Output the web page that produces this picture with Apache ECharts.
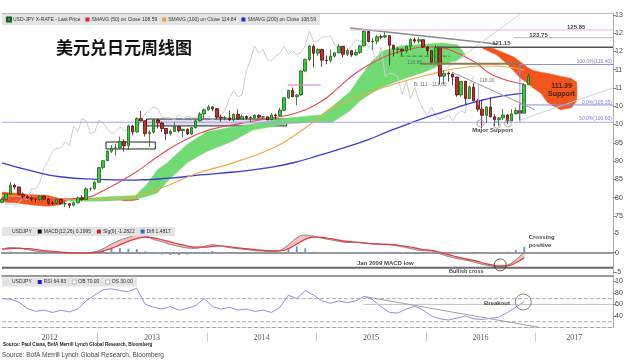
<!DOCTYPE html>
<html>
<head>
<meta charset="utf-8">
<script src="https://cdn.jsdelivr.net/npm/echarts@6.0.0/dist/echarts.min.js"></script>
<style>
html,body{margin:0;padding:0;background:#ffffff;}
#chart{width:630px;height:360px;}
</style>
</head>
<body>
<div id="chart"></div>
<script>
// ---------------- data ----------------
const xMin = 2012.13, xMax = 2017.71;
const barStart = 2012.13;   // first bi-weekly bar
const barsPerYear = 26;
const firstOpen = 78.7;
const laggingShift = 13;    // 26 weeks

const closes = [
  79.5, 81.0, 83.4, 82.9, 80.9, 80.3, 79.9, 79.6, 79.5, 80.4, 79.6, 78.5, 78.4, 79.5, 78.3, 78.3, 77.9, 78.6, 79.9, 79.5, 82.4, 82.4, 84.2,
  88.2, 90.1, 92.7, 93.5, 93.6, 95.3, 94.2, 99.6, 98.0, 101.6, 101.0, 97.5, 97.9, 101.2, 100.4, 98.9, 97.5, 98.1, 99.4, 98.3, 98.6, 97.4, 99.1, 101.0, 102.9, 104.0,
  104.8, 104.3, 102.0, 101.8, 101.8, 101.3, 102.8, 101.5, 102.2, 101.8, 101.9, 102.5, 102.0, 102.1, 101.3, 102.6, 102.4, 103.9, 107.3, 109.3, 107.6, 108.1, 114.6, 117.8, 121.4, 119.5,
  120.5, 117.6, 117.5, 118.7, 119.6, 121.4, 119.2, 120.2, 119.0, 119.7, 121.5, 125.5, 122.7, 122.8, 124.0, 123.9, 124.3, 121.7, 120.6, 120.6, 120.2, 121.4, 123.2, 122.8, 123.2, 121.2,
  120.2, 117.0, 121.1, 113.2, 114.0, 113.8, 113.0, 108.1, 111.8, 107.1, 110.2, 106.5, 104.2, 102.5, 104.8, 102.1, 101.3, 101.8, 102.6, 101.0, 102.9, 103.8, 103.1, 110.9, 113.2
];
const highs = [
  80.0, 81.2, 84.2, 83.8, 83.0, 81.4, 80.6, 80.3, 80.0, 80.6, 80.6, 79.8, 79.0, 79.6, 79.7, 78.8, 78.5, 79.0, 80.3, 80.6, 82.8, 82.8, 84.5,
  88.4, 90.2, 92.9, 94.4, 94.8, 96.7, 96.0, 99.9, 99.9, 102.0, 103.7, 101.1, 98.4, 101.5, 101.5, 100.8, 99.0, 98.6, 100.6, 99.6, 98.9, 99.0, 99.3, 101.3, 103.4, 104.4,
  105.4, 105.0, 104.5, 102.7, 102.3, 103.8, 103.0, 104.1, 102.7, 102.5, 102.2, 102.8, 102.8, 102.3, 102.2, 103.1, 103.0, 104.5, 107.4, 109.5, 110.1, 108.3, 114.9, 118.0, 121.8, 121.9,
  120.8, 120.7, 118.9, 120.5, 119.8, 122.0, 121.3, 120.8, 120.3, 120.5, 121.8, 125.8, 125.0, 123.7, 124.5, 124.6, 125.3, 124.4, 121.8, 121.3, 120.7, 121.6, 123.6, 123.8, 123.8, 123.3,
  121.5, 120.4, 121.7, 121.1, 114.9, 114.5, 113.8, 113.0, 111.9, 111.9, 110.6, 111.4, 107.0, 106.8, 105.0, 107.5, 102.8, 102.0, 104.3, 102.8, 104.2, 104.6, 105.5, 111.2, 113.9
];
const lows = [
  78.4, 79.3, 80.8, 82.2, 80.6, 79.7, 79.6, 79.0, 78.8, 79.1, 79.3, 78.0, 77.9, 78.1, 78.1, 77.4, 77.1, 77.6, 78.4, 79.1, 79.4, 81.7, 82.2,
  84.0, 87.8, 90.0, 92.2, 91.5, 93.5, 92.6, 93.0, 97.0, 97.7, 100.8, 96.7, 93.8, 97.5, 98.9, 97.9, 95.8, 96.9, 98.0, 97.8, 96.6, 97.1, 97.1, 98.9, 100.8, 101.6,
  103.8, 103.6, 101.5, 100.8, 101.2, 101.0, 100.8, 101.3, 101.4, 101.4, 100.8, 101.5, 101.6, 101.5, 101.1, 101.2, 101.5, 102.2, 103.7, 107.0, 107.4, 105.2, 107.8, 114.4, 117.3, 115.6,
  118.8, 115.8, 116.5, 117.0, 118.3, 119.5, 118.3, 118.7, 118.5, 118.8, 119.3, 121.4, 122.5, 120.4, 122.0, 123.3, 123.6, 116.2, 118.6, 119.3, 118.7, 119.5, 120.3, 122.2, 122.2, 120.9,
  119.0, 116.5, 116.9, 110.9, 111.0, 111.7, 110.7, 107.6, 107.6, 105.6, 107.0, 106.3, 103.5, 99.0, 100.4, 101.9, 99.5, 99.6, 101.2, 100.1, 100.9, 103.2, 101.2, 103.0, 110.8
];

// moving averages: [year, value]
const sma50 = [[2012.13,79.2],[2012.4,80.0],[2012.7,79.6],[2012.9,80.0],[2013.03,81.5],[2013.33,86.5],[2013.58,91.8],[2013.82,96.0],[2014.06,98.8],[2014.31,100.3],[2014.55,101.6],[2014.8,103.0],[2015.04,106.2],[2015.2,110.0],[2015.35,113.8],[2015.56,117.6],[2015.8,120.2],[2016.05,121.2],[2016.22,120.4],[2016.45,117.0],[2016.62,113.4],[2016.9,111.0]];
const sma100 = [[2012.13,80.6],[2012.5,80.0],[2012.9,79.4],[2013.2,79.8],[2013.58,82.6],[2013.9,86.5],[2014.24,89.5],[2014.6,93.5],[2014.85,98.0],[2015.04,102.2],[2015.15,104.6],[2015.47,108.6],[2015.75,111.4],[2016.0,113.4],[2016.3,115.4],[2016.6,116.0],[2016.9,114.84]];
const sma200 = [[2012.13,89.5],[2012.4,87.3],[2012.66,85.7],[2013.0,85.0],[2013.33,84.8],[2013.66,85.3],[2013.94,86.2],[2014.25,87.0],[2014.55,88.1],[2014.8,89.6],[2015.04,91.7],[2015.25,93.6],[2015.47,95.8],[2015.66,98.1],[2015.86,100.4],[2016.05,102.4],[2016.22,104.0],[2016.38,105.6],[2016.52,106.7],[2016.7,107.8],[2016.9,108.6]];

// Ichimoku cloud pieces: [year, lower span, upper span]
const cloudBear2012 = [[2012.13,78.8,81.5],[2012.25,78.6,81.2],[2012.4,78.0,80.8],[2012.55,77.6,80.6],[2012.65,78.0,79.8],[2012.72,79.0,79.2]];
const cloudBear2013 = [[2013.18,79.5,79.6],[2013.26,79.1,80.2],[2013.33,79.2,80.0],[2013.38,79.5,79.6]];
const cloudBull = [[2012.72,79.1,79.2],[2012.9,79.0,79.8],[2013.1,79.1,80.2],[2013.35,79.6,80.6],[2013.45,80.3,83.5],[2013.55,81.3,87.6],[2013.64,84.5,89.5],[2013.82,89.5,94.5],[2014.0,92.6,98.0],[2014.24,95.5,99.3],[2014.42,98.5,100.1],[2014.74,100.2,101.8],[2015.04,100.7,102.6],[2015.15,100.7,105.0],[2015.31,103.8,109.0],[2015.4,106.5,113.0],[2015.5,108.5,117.0],[2015.6,110.2,120.0],[2015.77,112.2,121.5],[2016.0,114.5,122.0],[2016.15,116.5,122.3],[2016.29,117.6,121.8],[2016.36,118.8,119.2]];
const cloudBear2016 = [[2016.52,120.8,121.0],[2016.59,119.8,121.2],[2016.65,119.0,120.4],[2016.74,116.6,119.3],[2016.8,114.8,118.5],[2016.86,112.8,117.2],[2016.93,111.3,115.6],[2016.98,110.0,114.8],[2017.05,108.6,114.3],[2017.11,106.1,114.0],[2017.23,104.0,113.2],[2017.33,104.6,112.6],[2017.38,106.5,111.5]];

// indicators, one value every 4 weeks from barStart
const macdLine = [0.7,1.3,1.2,0.8,0.4,0.2,0.1,0.0,-0.2,-0.2,0.0,0.2,1.0,2.2,3.2,3.9,4.5,4.3,3.4,2.8,2.1,1.6,1.2,1.1,1.6,2.0,1.7,1.3,1.0,0.8,0.5,0.4,0.3,0.6,2.0,3.8,4.5,4.2,3.7,3.3,2.9,2.6,2.6,2.4,2.2,2.1,2.0,1.7,1.3,0.8,0.5,0.4,-0.3,-1.0,-1.5,-1.9,-2.4,-3.0,-3.4,-3.6,-3.2,-1.9,0.2];
const signalLine = [0.9,1.0,1.1,1.0,0.8,0.5,0.3,0.15,0.0,-0.1,-0.1,0.0,0.4,1.1,2.0,2.9,3.6,4.0,3.8,3.3,2.7,2.2,1.7,1.4,1.4,1.6,1.7,1.5,1.2,1.0,0.8,0.6,0.45,0.45,1.0,2.2,3.4,4.0,3.9,3.6,3.2,2.9,2.7,2.5,2.3,2.2,2.1,1.9,1.6,1.2,0.8,0.6,0.1,-0.5,-1.1,-1.6,-2.0,-2.6,-3.1,-3.4,-3.4,-2.6,-1.3];
const rsiLine = [70,69,64,53,48,50,46,50,47,52,66,76,85,87,84,82,88,60,55,52,56,50,53,58,70,56,52,55,50,52,48,50,46,55,76,70,84,76,66,62,66,63,66,74,68,56,46,45,52,57,50,40,35,33,36,40,35,34,36,38,46,55,64.83];
const rsiLevels = [70, 30];
const macdLow2009 = -3.92;

// axis ticks / labels
const years = [2012, 2013, 2014, 2015, 2016, 2017];
const priceTicks = [75, 80, 85, 90, 95, 100, 105, 110, 115, 120, 125, 130];
const priceTickText = ['75','80','85','90','95','10','10','11','11','12','12','13'];
const macdTicks = [-5, 0, 5];
const macdTickText = ['-5','0','5'];
const rsiTicks = [40, 60, 80, 100];
const rsiTickText = ['40','60','80','10'];

// ---------------- build ----------------
const barT = i => barStart + i / barsPerYear;
const indT = k => barStart + k * 2 / barsPerYear;
const opens = [firstOpen].concat(closes.slice(0, -1));
const candleData = closes.map((c, i) => [barT(i), opens[i], c, lows[i], highs[i]]);
const laggingData = closes.map((c, i) => [barT(i - laggingShift), c]);
const macdData = macdLine.map((v, k) => [indT(k), v]);
const sigData = signalLine.map((v, k) => [indT(k), v]);
const diffData = macdLine.map((v, k) => [indT(k), +(v - signalLine[k]).toFixed(2)]);
const macdBand = macdLine.map((v, k) => [indT(k), signalLine[k], v]);
const rsiData = rsiLine.map((v, k) => [indT(k), v]);

const FONT = 'Liberation Sans';

function band(data, color, xi, yi, z) {
  return {
    type: 'custom', xAxisIndex: xi, yAxisIndex: yi, z: z, silent: true, clip: true,
    data: data, encode: { x: 0, y: [1, 2] },
    renderItem: function (params, api) {
      if (params.dataIndex !== 0) return null;
      const top = data.map(d => api.coord([d[0], d[2]]));
      const bot = data.slice().reverse().map(d => api.coord([d[0], d[1]]));
      return { type: 'polygon', shape: { points: top.concat(bot) },
               style: { fill: color, stroke: color, lineWidth: 0.5 } };
    }
  };
}
function seg(points, color, width, type, xi, yi, z) {
  return { type: 'line', xAxisIndex: xi, yAxisIndex: yi, data: points, symbol: 'none', silent: true,
           z: z || 6, lineStyle: { color: color, width: width, type: type || 'solid' }, itemStyle: { color: color } };
}
function texts(items, xi, yi) {
  return { type: 'scatter', xAxisIndex: xi, yAxisIndex: yi, silent: true, z: 30, symbolSize: 1,
    itemStyle: { color: 'rgba(0,0,0,0)' },
    data: items.map(a => ({ value: [a.t, a.v], label: { show: true, position: 'inside', formatter: a.text,
      fontSize: a.size, fontWeight: a.bold ? 'bold' : 'normal', color: a.color || '#111', fontFamily: FONT,
      align: a.align || 'center', verticalAlign: 'middle', lineHeight: a.lh || a.size + 1 } })) };
}
function rings(items, xi, yi, color) {
  return { type: 'scatter', xAxisIndex: xi, yAxisIndex: yi, silent: true, z: 25, symbol: 'circle',
    data: items.map(a => ({ value: [a.t, a.v], symbolSize: a.size })),
    itemStyle: { color: 'rgba(0,0,0,0)', borderColor: color, borderWidth: 1 } };
}

const yearLabelPos = years.map(y => (Math.max(y, xMin) + Math.min(y + 1, xMax)) / 2);
const yearTickPos = years.filter(y => y > xMin && y < xMax);

const gridL = 2, gridR = 17;
const yAxisBase = {
  type: 'value', position: 'right', splitLine: { show: false },
  axisLine: { show: true, lineStyle: { color: '#aaa' } },
  axisTick: { show: true, length: 3, lineStyle: { color: '#888' } }
};
function yLabels(ticks, txt) {
  return { show: true, margin: 2, fontSize: 7, color: '#444', fontFamily: FONT, customValues: ticks,
           formatter: v => { const i = ticks.findIndex(t => Math.abs(t - v) < 1e-6); return i >= 0 ? txt[i] : ''; } };
}
const xBase = { type: 'value', min: xMin, max: xMax, splitLine: { show: false } };

const option = {
  animation: false,
  backgroundColor: '#ffffff',
  textStyle: { fontFamily: FONT },
  title: { text: '美元兑日元周线图', left: 51, top: 34,
           textStyle: { fontSize: 17, fontWeight: 'bold', fontFamily: 'Noto Sans CJK SC', color: '#111' } },
  legend: [
    { left: 2, top: 14, padding: [2.5, 4], backgroundColor: '#e4e4e4', itemWidth: 4, itemHeight: 4, itemGap: 5,
      selectedMode: false, textStyle: { fontSize: 5, color: '#333', padding: [0, 0, 0, -3] },
      data: [
        { name: 'USD-JPY X-RATE - Last Price', icon: 'rect', itemStyle: { color: '#2fbf2f' } },
        { name: 'SMAVG (50) on Close 108.59', icon: 'rect', itemStyle: { color: '#e0203a' } },
        { name: 'SMAVG (100) on Close 114.84', icon: 'rect', itemStyle: { color: '#f0a030' } },
        { name: 'SMAVG (200) on Close 108.59', icon: 'rect', itemStyle: { color: '#2a2ad0' } }
      ] },
    { left: 2, top: 227, padding: [2, 4], backgroundColor: '#e4e4e4', itemWidth: 4, itemHeight: 4, itemGap: 6,
      selectedMode: false, textStyle: { fontSize: 5, color: '#333', padding: [0, 0, 0, -3] },
      data: [
        { name: 'USDJPY', icon: 'rect', itemStyle: { color: 'rgba(0,0,0,0)', borderWidth: 0 } },
        { name: 'MACD(12,26) 0.1995', icon: 'rect', itemStyle: { color: '#111' } },
        { name: 'Sig(9) -1.2822', icon: 'rect', itemStyle: { color: '#e02020' } },
        { name: 'Diff 1.4817', icon: 'rect', itemStyle: { color: '#3a6bc8' } }
      ] },
    { left: 2, top: 277.5, padding: [2, 4], backgroundColor: '#e4e4e4', itemWidth: 4, itemHeight: 4, itemGap: 6,
      selectedMode: false, textStyle: { fontSize: 5, color: '#333', padding: [0, 0, 0, -3] },
      data: [
        { name: 'USDJPY', icon: 'rect', itemStyle: { color: 'rgba(0,0,0,0)', borderWidth: 0 } },
        { name: 'RSI 64.83', icon: 'rect', itemStyle: { color: '#2020d0' } },
        { name: 'OB 70.00', icon: 'rect', itemStyle: { color: '#ffffff', borderColor: '#999', borderWidth: 0.6 } },
        { name: 'OS 30.00', icon: 'rect', itemStyle: { color: '#ffffff', borderColor: '#999', borderWidth: 0.6 } }
      ] }
  ],
  grid: [
    { left: gridL, right: gridR, top: 13, height: 212 },
    { left: gridL, right: gridR, top: 225, height: 49 },
    { left: gridL, right: gridR, top: 275.5, height: 52 }
  ],
  xAxis: [
    Object.assign({}, xBase, { gridIndex: 0, position: 'top', axisLine: { show: true, lineStyle: { color: '#bbb' } }, axisTick: { show: false }, axisLabel: { show: false } }),
    Object.assign({}, xBase, { gridIndex: 1, position: 'top', axisLine: { show: true, lineStyle: { color: '#999', width: 2 } }, axisTick: { show: false }, axisLabel: { show: false } }),
    Object.assign({}, xBase, { gridIndex: 2, position: 'top', axisLine: { show: true, lineStyle: { color: '#999', width: 2 } }, axisTick: { show: false }, axisLabel: { show: false } }),
    Object.assign({}, xBase, { gridIndex: 2, position: 'bottom', axisLine: { show: true, lineStyle: { color: '#aaa', type: 'dashed' } }, axisTick: { show: false }, axisLabel: { show: false } }),
    Object.assign({}, xBase, { gridIndex: 2, position: 'bottom', offset: 5, axisLine: { show: false },
      axisTick: { show: true, length: 9, customValues: yearTickPos, lineStyle: { color: '#c8c8c8' } },
      axisLabel: { show: true, margin: 1, fontSize: 8, color: '#555', fontFamily: 'Liberation Serif',
                   customValues: yearLabelPos, formatter: v => String(years[yearLabelPos.findIndex(p => Math.abs(p - v) < 1e-6)]) } })
  ],
  yAxis: [
    Object.assign({}, yAxisBase, { gridIndex: 0, min: 72.5, max: 130.5, axisLabel: yLabels(priceTicks, priceTickText), axisTick: Object.assign({}, yAxisBase.axisTick, { customValues: priceTicks }) }),
    Object.assign({}, yAxisBase, { gridIndex: 1, min: -5.5, max: 7.1, axisLabel: yLabels(macdTicks, macdTickText), axisTick: Object.assign({}, yAxisBase.axisTick, { customValues: macdTicks }) }),
    Object.assign({}, yAxisBase, { gridIndex: 2, min: 20, max: 110, axisLabel: yLabels(rsiTicks, rsiTickText), axisTick: Object.assign({}, yAxisBase.axisTick, { customValues: rsiTicks }) })
  ],
  series: [
    // ---- main panel ----
    band(cloudBear2012, '#f2561d', 0, 0, 1),
    band(cloudBear2013, '#f2561d', 0, 0, 1),
    band(cloudBull, '#72da72', 0, 0, 1),
    band(cloudBear2016, '#f2561d', 0, 0, 1),
    { type: 'line', name: 'Lagging', xAxisIndex: 0, yAxisIndex: 0, data: laggingData, symbol: 'none', silent: true, z: 2,
      lineStyle: { color: '#cfcfcf', width: 1 } },
    { type: 'line', name: 'SMAVG (200) on Close 108.59', xAxisIndex: 0, yAxisIndex: 0, data: sma200, smooth: true, symbol: 'none', z: 3,
      lineStyle: { color: '#3a3ad6', width: 1.3 }, itemStyle: { color: '#2a2ad0' } },
    { type: 'line', name: 'SMAVG (100) on Close 114.84', xAxisIndex: 0, yAxisIndex: 0, data: sma100, smooth: true, symbol: 'none', z: 3,
      lineStyle: { color: '#f0a840', width: 1.1 }, itemStyle: { color: '#f0a030' } },
    { type: 'line', name: 'SMAVG (50) on Close 108.59', xAxisIndex: 0, yAxisIndex: 0, data: sma50, smooth: true, symbol: 'none', z: 3,
      lineStyle: { color: '#e04a5a', width: 1.1 }, itemStyle: { color: '#e0203a' } },
    { type: 'candlestick', name: 'USD-JPY X-RATE - Last Price', xAxisIndex: 0, yAxisIndex: 0, data: candleData,
      encode: { x: 0, y: [1, 2, 3, 4] }, barWidth: 3, z: 5,
      itemStyle: { color: '#33cc33', color0: '#cf2a2a', borderColor: '#1f5f1f', borderColor0: '#4a0d0d', borderWidth: 0.8 },
      markArea: { silent: true,
        itemStyle: { color: 'rgba(0,0,0,0)', borderColor: '#222', borderWidth: 1 },
        data: [
          [{ coord: [2013.08, 95.2] }, { coord: [2013.53, 93.3] }],
          [{ coord: [2013.45, 101.5], itemStyle: { color: 'rgba(185,185,215,0.45)', borderColor: '#222', borderWidth: 1 } }, { coord: [2014.73, 99.6] }]
        ] } },
    seg([[2015.31, 126.37], [2016.65, 122.0]], '#8a8a8a', 1.5, 'solid', 0, 0),
    seg([[2016.18, 115.2], [2016.87, 130.4]], '#d2d2d2', 1, 'solid', 0, 0),
    seg([[2016.24, 114.3], [2017.0, 104.0]], '#9a9a9a', 1, 'solid', 0, 0),
    seg([[2016.86, 101.2], [xMax, 110.0]], '#d0d0d0', 1, 'solid', 0, 0),
    seg([[2015.31, 125.85], [xMax, 125.85]], '#e6b8e6', 1, 'solid', 0, 0),
    seg([[2016.8, 123.75], [xMax, 123.75]], '#bbbbbb', 1, 'solid', 0, 0),
    seg([[2016.1, 121.15], [xMax, 121.15]], '#555555', 1.5, 'solid', 0, 0),
    seg([[2016.86, 116.4], [xMax, 116.4]], '#8c8ce6', 1, 'solid', 0, 0),
    seg([[2016.86, 105.35], [xMax, 105.35]], '#8c8ce6', 1, 'solid', 0, 0),
    seg([[xMin, 100.6], [xMax, 100.6]], '#a4a4ee', 1, 'solid', 0, 0, 4),
    seg([[2016.86, 116.4], [2016.86, 100.6]], '#8c8ce6', 1, 'solid', 0, 0),
    seg([[2016.48, 110.8], [2016.48, 105.3]], '#a4a4ee', 1, 'solid', 0, 0),
    seg([[2015.95, 116.6], [2016.86, 116.6]], '#8b7d4e', 2, 'solid', 0, 0),
    seg([[2015.77, 118.7], [2016.22, 118.7]], '#2e8b2e', 1, 'dashed', 0, 0),
    seg([[2014.74, 110.8], [2015.04, 110.8]], '#e070d0', 1, 'solid', 0, 0),
    rings([{ t: 2016.5, v: 100.3, size: 7 }, { t: 2016.65, v: 99.9, size: 7 }, { t: 2016.75, v: 100.3, size: 7 }], 0, 0, '#9a9a9a'),
    texts([
      { t: 2017.374, v: 126.5, text: '125.85', size: 6, bold: true },
      { t: 2017.03, v: 124.45, text: '123.75', size: 6, bold: true },
      { t: 2016.69, v: 122.13, text: '121.15', size: 6, bold: true },
      { t: 2017.70, v: 117.08, text: '100.0%(116.40)', size: 5, color: '#5a5ad0', align: 'right' },
      { t: 2017.70, v: 106.0, text: '0.0%(105.35)', size: 5, color: '#5a5ad0', align: 'right' },
      { t: 2017.70, v: 101.5, text: '50.0%(100.60)', size: 5, color: '#5a5ad0', align: 'right' },
      { t: 2015.90, v: 116.8, text: '116.80', size: 5, color: '#555' },
      { t: 2016.04, v: 110.8, text: 'B: 111 - 111.80', size: 5, color: '#555' },
      { t: 2016.56, v: 111.9, text: '116.00', size: 5, color: '#555' },
      { t: 2017.24, v: 109.3, text: '111.39\nSupport', size: 7, bold: true, lh: 8 },
      { t: 2016.61, v: 98.5, text: 'Major Support', size: 6, bold: true }
    ], 0, 0),

    // ---- MACD panel ----
    { type: 'line', name: 'USDJPY', xAxisIndex: 1, yAxisIndex: 1, data: [], symbol: 'none' },
    band(macdBand, 'rgba(228,110,110,0.42)', 1, 1, 2),
    { type: 'bar', name: 'Diff 1.4817', xAxisIndex: 1, yAxisIndex: 1, data: diffData, barWidth: 2, z: 2,
      itemStyle: { color: '#7098d8' } },
    { type: 'line', name: 'MACD(12,26) 0.1995', xAxisIndex: 1, yAxisIndex: 1, data: macdData, smooth: true, symbol: 'none', z: 3,
      lineStyle: { color: '#8a8a8a', width: 1 }, itemStyle: { color: '#111' } },
    { type: 'line', name: 'Sig(9) -1.2822', xAxisIndex: 1, yAxisIndex: 1, data: sigData, smooth: true, symbol: 'none', z: 3,
      lineStyle: { color: '#e03c3c', width: 1.2 }, itemStyle: { color: '#e02020' } },
    seg([[xMin, macdLow2009], [xMax, macdLow2009]], '#6a6a6a', 2, 'solid', 1, 1),
    rings([{ t: 2016.68, v: -3.15, size: 12 }], 1, 1, '#333'),
    texts([
      { t: 2015.63, v: -2.64, text: 'Jan 2009 MACD low', size: 6, bold: true },
      { t: 2016.37, v: -4.95, text: 'Bullish cross', size: 5.5, bold: true },
      { t: 2016.94, v: 3.0, text: 'Crossing\npositive', size: 6, bold: true, align: 'left', lh: 8 }
    ], 1, 1),

    // ---- RSI panel ----
    { type: 'line', name: 'OB 70.00', xAxisIndex: 2, yAxisIndex: 2, data: [[xMin, rsiLevels[0]], [xMax, rsiLevels[0]]], symbol: 'none', silent: true,
      lineStyle: { color: '#b0b0b0', width: 1, type: 'dashed' }, itemStyle: { color: '#fff' } },
    { type: 'line', name: 'OS 30.00', xAxisIndex: 2, yAxisIndex: 2, data: [[xMin, rsiLevels[1]], [xMax, rsiLevels[1]]], symbol: 'none', silent: true,
      lineStyle: { color: '#b0b0b0', width: 1, type: 'dashed' }, itemStyle: { color: '#fff' } },
    seg([[2015.43, 60], [xMax, 60]], '#c0c0c0', 1, 'solid', 2, 2),
    seg([[2015.45, 73.3], [2017.03, 20.4]], '#a0a0a0', 1, 'solid', 2, 2),
    { type: 'line', name: 'RSI 64.83', xAxisIndex: 2, yAxisIndex: 2, data: rsiData, symbol: 'none', z: 4,
      lineStyle: { color: '#8f8fe6', width: 1 }, itemStyle: { color: '#2020d0' } },
    rings([{ t: 2016.89, v: 64.1, size: 16 }], 2, 2, '#666'),
    texts([{ t: 2016.65, v: 62.4, text: 'Breakout', size: 6, bold: true }], 2, 2)
  ],
  graphic: [
    { type: 'text', left: 3, top: 342, silent: true,
      style: { text: 'Source: Paul Ciana, BofA Merrill Lynch Global Research, Bloomberg', font: 'bold 4.6px "Liberation Sans"', fill: '#222' } },
    { type: 'text', left: 2, top: 351.5, silent: true,
      style: { text: 'Source: BofA Merrill Lynch Global Research, Bloomberg', font: '6.5px "Liberation Sans"', fill: '#444' } }
  ]
};

const chart = echarts.init(document.getElementById('chart'), null, { renderer: 'canvas' });
chart.setOption(option);
</script>
</body>
</html>
